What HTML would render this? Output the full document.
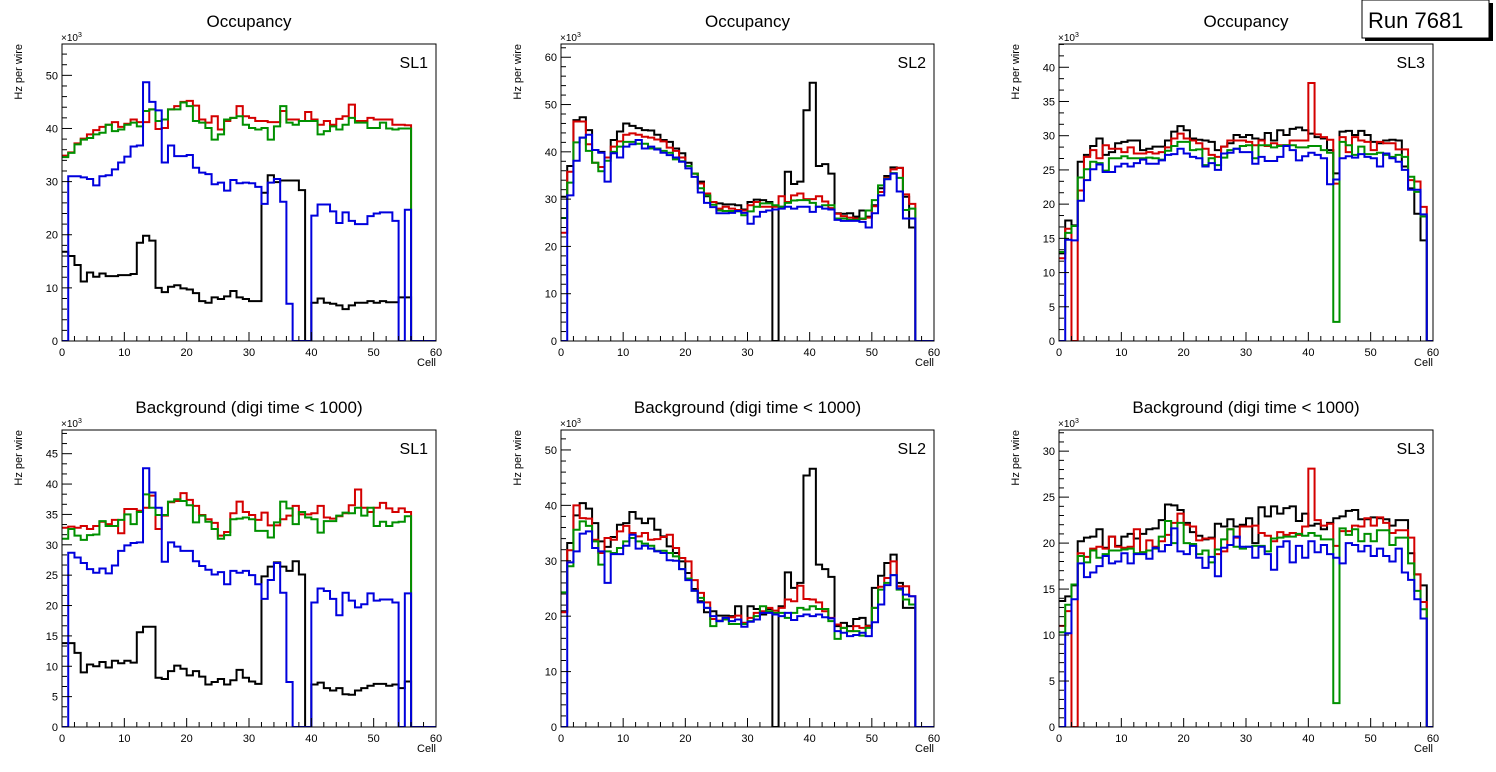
<!DOCTYPE html>
<html><head><meta charset="utf-8"><title>Occupancy Run 7681</title>
<style>
html,body{margin:0;padding:0;background:#fff;}
svg{display:block;font-family:"Liberation Sans",Arial,sans-serif;}
</style></head>
<body>
<svg id="chart" width="1496" height="772" viewBox="0 0 1496 772" xmlns="http://www.w3.org/2000/svg">
<rect x="0" y="0" width="1496" height="772" fill="#fff"/>
<g>
<rect x="1365" y="3" width="128" height="38" fill="#000"/>
<rect x="1362" y="0" width="127" height="38" fill="#fff" stroke="#000" stroke-width="1"/>
<text x="1368" y="28" font-size="22" fill="#000">Run 7681</text>
</g>
</svg>
<script>
const cells = 60;
const xTickLabels = ["0","10","20","30","40","50","60"];

// Panel 1: Occupancy SL1
const occSL1Black = [16.8,16.0,14.3,11.2,12.9,12.1,12.7,12.2,12.2,12.4,12.4,12.6,18.5,19.8,18.9,10.0,9.2,10.2,10.5,9.9,9.7,9.0,7.5,7.2,8.2,7.9,8.4,9.4,8.2,7.9,7.5,7.5,27.9,31.2,29.9,30.2,30.2,30.2,28.4,0,7.2,8.0,7.2,7.0,6.7,6.0,6.7,7.2,7.2,7.5,7.2,7.5,7.3,7.3,8.2,8.2,0,0,0,0];
const occSL1Red = [34.9,35.5,37.2,38.1,38.9,39.7,40.3,40.7,41.2,40.3,40.9,41.7,41.2,41.2,43.6,39.9,40.1,43.6,44.2,45.0,45.2,44.3,41.7,41.1,42.3,39.8,41.4,42.0,44.2,42.3,42.0,41.4,41.4,41.2,41.2,43.3,41.7,41.7,41.4,43.1,41.7,40.7,41.4,40.7,41.8,42.3,44.5,41.4,41.4,42.0,41.7,41.7,41.7,40.7,40.7,40.6,0,0,0,0];
const occSL1Green = [34.6,35.4,37.0,37.9,38.2,38.9,39.2,40.7,39.5,39.8,40.7,41.1,40.4,43.3,43.6,41.4,41.7,43.6,43.6,44.9,44.2,41.4,41.1,40.1,37.9,38.9,41.7,42.0,42.3,40.7,40.1,39.8,40.1,37.9,40.4,44.2,41.1,40.7,41.4,41.4,41.4,38.9,39.5,40.4,39.8,40.7,42.0,41.1,41.1,40.1,40.1,41.1,40.0,39.8,40.0,40.0,0,0,0,0];
const occSL1Blue = [0,31.0,31.0,30.8,30.5,29.3,31.0,31.2,32.3,33.6,34.7,36.6,36.8,48.7,45.0,43.4,33.6,36.8,34.8,34.8,35.0,32.6,31.7,31.4,29.5,29.8,28.3,30.3,29.7,29.8,29.7,29.0,25.8,29.8,30.5,26.2,7.0,0,0,0,23.6,25.7,25.7,24.4,22.2,24.2,22.6,22.0,22.0,23.5,24.0,24.2,24.2,22.6,0,24.7,0,0,0,0];

// Panel 2: Occupancy SL2
const occSL2Black = [30.5,37.0,46.7,47.3,44.6,40.4,40.0,38.8,42.5,44.3,46.0,45.5,45.0,44.6,44.5,43.6,42.5,42.1,40.7,39.7,37.7,35.4,33.7,30.6,29.4,29.1,28.9,28.9,28.7,27.8,29.4,29.9,29.8,29.4,0,28.4,35.8,33.2,33.7,48.8,54.6,37.0,37.4,35.4,27.0,26.9,27.0,26.3,27.6,26.3,28.7,32.3,34.9,36.7,36.6,30.5,24.0,0,0,0];
const occSL2Red = [22.9,35.8,46.4,46.4,41.6,37.7,36.8,38.8,41.1,42.2,43.6,43.9,43.6,43.2,43.0,42.6,42.2,40.9,40.2,38.8,37.0,35.4,33.3,31.2,29.4,28.0,28.4,28.0,27.7,27.6,28.7,29.4,28.4,28.4,28.4,30.6,29.4,30.8,31.2,30.0,30.0,30.6,29.5,28.1,26.9,26.4,26.1,25.9,25.8,26.1,28.5,31.5,34.5,36.3,36.6,31.0,29.0,0,0,0];
const occSL2Green = [26.0,33.5,42.0,43.0,40.2,37.7,35.9,38.1,40.0,41.1,42.1,42.1,41.7,41.7,40.7,40.7,40.2,39.8,38.4,38.0,37.0,35.4,32.3,30.8,28.8,27.6,27.5,27.5,27.4,26.6,27.4,28.4,29.1,29.1,28.7,28.4,29.2,29.7,29.8,29.8,29.2,28.4,28.7,28.7,25.9,25.9,25.6,25.6,25.9,27.6,29.8,32.9,34.3,35.5,34.5,27.7,28.0,0,0,0];
const occSL2Blue = [0,30.8,38.1,43.0,43.6,40.4,39.8,33.7,39.7,38.8,41.1,41.6,42.5,40.7,41.1,40.5,39.8,39.3,38.8,37.9,36.5,34.7,31.4,29.2,28.3,27.0,27.0,27.1,27.5,27.1,24.8,26.3,27.3,27.6,27.8,28.0,28.4,28.0,28.4,28.4,27.3,28.4,28.0,27.8,25.6,25.4,25.4,25.4,25.2,24.0,27.0,30.8,34.2,35.4,31.6,25.9,25.9,0,0,0];

// Panel 3: Occupancy SL3
const occSL3Black = [12.8,17.6,16.9,26.2,27.2,28.5,29.6,27.2,27.6,28.9,29.1,29.3,29.3,27.9,28.1,28.4,28.4,29.3,30.6,31.4,30.8,29.6,29.4,29.3,29.1,27.9,28.4,28.9,30.1,29.8,30.1,29.6,29.4,30.4,29.3,30.8,30.1,31.0,31.2,30.8,30.3,29.8,29.6,27.9,24.5,30.6,30.7,30.1,30.7,30.1,29.1,28.9,29.3,29.4,29.3,25.5,22.3,18.6,14.7,0];
const occSL3Red = [12.1,16.4,0,22.0,26.9,27.9,26.7,28.6,28.1,28.1,27.6,28.3,27.4,27.4,27.6,27.4,27.6,28.3,29.6,30.3,29.6,29.3,28.9,28.1,27.2,26.9,28.4,29.3,29.3,29.3,29.1,28.6,29.3,28.5,28.9,28.6,28.6,29.3,29.3,29.3,37.7,30.2,29.8,29.4,23.0,29.8,27.6,29.8,29.3,29.1,27.9,29.1,28.9,28.9,28.0,28.0,23.5,23.3,19.6,0];
const occSL3Green = [13.0,15.8,16.8,23.9,25.1,26.2,26.0,24.9,26.7,26.7,27.0,26.7,26.7,26.7,26.8,26.7,26.5,27.8,28.5,29.1,29.1,27.9,28.0,25.7,26.7,25.7,26.8,27.9,28.1,28.5,28.6,26.7,28.6,28.6,28.3,28.5,28.6,28.6,28.3,28.3,28.5,28.5,27.9,27.5,2.8,29.1,28.6,27.2,28.4,27.3,27.3,27.5,27.2,26.9,27.2,26.9,24.0,21.8,18.2,0];
const occSL3Blue = [0,14.8,14.7,20.5,23.5,25.1,25.8,24.7,24.7,25.5,25.9,25.5,26.0,26.5,25.9,25.9,26.4,27.2,27.3,28.1,27.4,26.9,26.7,25.5,26.0,25.0,27.4,27.5,28.1,27.6,27.6,25.9,26.9,26.3,26.3,26.9,28.5,27.9,26.4,27.0,27.5,27.2,26.7,22.9,23.6,26.7,27.0,26.8,27.3,26.9,26.7,25.5,27.4,26.7,26.2,25.0,22.1,22.1,18.5,0];

// Panel 4: Background SL1
const bkgSL1Black = [13.8,13.8,12.2,9.0,10.3,10.0,10.7,9.8,10.9,10.5,10.9,10.6,15.6,16.5,16.5,8.1,7.9,9.2,10.1,9.6,8.5,9.2,8.3,7.0,7.4,7.9,7.0,7.7,9.4,8.1,7.5,7.1,24.8,26.4,27.1,26.4,25.7,27.3,25.1,0,7.0,7.3,6.4,6.0,6.4,5.4,5.3,6.0,6.4,6.8,7.1,7.1,6.8,7.0,6.4,7.5,0,0,0,0];
const bkgSL1Red = [32.8,33.0,32.8,33.1,32.6,33.1,33.8,33.4,34.1,31.9,35.9,35.9,35.6,36.1,38.1,32.6,34.8,37.0,37.2,38.5,37.4,36.4,34.9,34.2,33.6,31.5,32.1,35.2,37.1,35.4,34.9,34.1,35.3,33.2,33.2,34.2,34.8,36.4,35.0,35.0,35.2,36.4,34.5,34.3,34.7,35.2,36.5,39.1,36.1,35.4,36.1,36.9,36.0,35.4,36.0,35.4,0,0,0,0];
const bkgSL1Green = [31.0,32.6,31.5,30.8,31.6,31.7,33.9,33.1,33.1,34.1,35.0,33.4,35.4,38.3,36.1,34.9,34.9,37.1,37.5,37.2,36.5,33.7,34.8,33.8,32.6,31.0,31.6,34.2,34.3,34.5,34.2,32.3,32.3,31.2,33.7,37.1,36.0,33.4,35.4,34.5,34.2,32.0,33.9,33.9,34.8,35.3,35.2,36.1,34.8,36.1,33.1,33.8,33.1,33.7,33.8,34.7,0,0,0,0];
const bkgSL1Blue = [0,28.7,27.9,27.0,26.0,25.4,26.1,25.3,26.6,29.0,29.9,30.3,30.4,42.6,38.6,36.1,27.2,30.4,29.7,29.0,29.0,27.3,26.5,25.9,25.1,25.5,23.5,25.7,25.4,25.7,25.0,23.5,21.1,24.2,27.0,22.1,7.4,0,0,0,20.5,22.8,22.4,21.1,18.4,22.1,20.8,19.7,20.2,22.0,20.8,21.0,21.0,20.5,0,22.0,0,0,0,0];

// Panel 5: Background SL2
const bkgSL2Black = [20.9,33.2,38.2,40.4,39.4,36.8,33.5,32.5,34.3,36.5,36.8,38.8,37.6,36.8,37.6,35.6,34.4,32.6,31.4,29.9,27.8,24.9,22.7,20.7,20.9,20.1,20.1,20.0,21.8,18.8,21.8,21.3,20.3,21.3,0,21.8,27.9,25.1,26.0,45.4,46.6,29.3,28.5,27.1,18.2,18.8,18.2,19.5,19.7,18.3,25.1,27.3,29.6,31.1,26.0,21.5,21.5,0,0,0];
const bkgSL2Red = [20.7,31.9,40.0,37.7,37.6,33.8,31.4,34.1,33.8,35.3,36.3,35.0,34.4,35.0,33.8,33.9,34.3,34.7,32.3,30.5,29.9,26.5,24.2,22.5,19.5,19.2,19.7,19.8,20.1,18.8,19.7,20.6,20.9,21.5,21.0,21.5,23.0,22.7,25.5,23.1,23.0,22.5,20.9,19.7,18.5,17.9,17.3,18.2,17.9,18.2,21.5,25.3,26.9,29.9,25.4,25.4,23.6,0,0,0];
const bkgSL2Green = [24.3,29.0,35.6,37.1,36.3,33.5,29.3,31.7,31.4,32.3,33.5,34.1,33.5,33.1,32.7,31.8,31.8,31.4,30.8,28.5,26.8,24.6,23.3,21.5,18.2,19.1,19.4,18.6,18.6,18.6,19.1,20.0,21.8,20.9,20.6,20.6,19.7,20.6,21.5,21.2,21.8,21.3,21.3,19.1,15.9,17.9,17.3,17.3,16.5,17.9,21.5,24.8,26.0,27.4,24.8,23.0,22.1,0,0,0];
const bkgSL2Blue = [0,29.7,31.7,34.9,35.3,32.3,31.7,26.0,31.2,31.2,32.7,34.7,32.2,32.7,32.2,31.7,31.4,30.1,30.0,28.5,26.5,24.6,22.5,21.5,20.0,19.1,19.7,19.1,19.4,18.1,19.0,19.4,20.6,20.6,20.3,20.0,20.6,19.3,20.0,20.3,20.0,20.3,19.8,19.6,17.3,17.0,16.4,16.6,17.0,16.4,18.9,22.1,25.6,27.4,25.0,23.9,23.6,0,0,0];

// Panel 6: Background SL3
const bkgSL3Black = [13.7,14.2,15.4,20.2,20.6,20.7,21.5,19.5,20.7,19.7,20.7,21.0,20.5,21.0,21.5,21.6,22.5,24.2,24.1,23.6,22.2,21.2,20.8,20.4,20.6,22.1,21.8,22.6,21.8,22.0,22.7,20.0,23.9,22.9,24.0,23.2,23.8,24.0,22.4,23.2,21.9,22.1,21.5,22.2,22.7,22.9,23.5,23.6,22.6,22.6,22.8,22.7,22.6,21.9,22.5,22.5,18.9,16.6,15.4,0];
const bkgSL3Red = [11.0,12.6,0,18.9,18.5,19.4,19.6,19.4,20.7,19.6,19.5,19.6,21.5,19.0,20.3,19.6,20.2,20.9,22.2,23.2,22.0,21.8,20.3,20.5,20.5,18.8,19.1,21.5,20.6,21.8,21.8,21.9,21.1,20.8,20.2,21.2,20.9,21.1,20.9,21.8,28.1,22.5,21.9,22.1,19.7,21.3,21.3,21.9,21.8,22.7,21.9,22.8,22.2,21.1,21.4,21.4,20.6,16.6,13.6,0];
const bkgSL3Green = [10.3,13.3,15.5,18.6,17.9,19.2,18.4,18.8,19.2,19.2,19.3,19.4,18.9,19.0,19.2,19.4,20.7,22.4,20.0,22.2,20.0,19.9,18.8,19.2,17.9,19.3,20.4,21.5,19.6,19.4,19.6,19.7,19.7,19.1,20.5,20.6,20.7,20.7,21.0,20.8,21.1,20.8,20.4,20.4,2.6,21.6,20.9,21.5,20.2,21.0,20.2,21.4,21.4,19.8,20.6,20.6,17.8,14.8,12.8,0];
const bkgSL3Blue = [0,10.2,13.9,17.8,16.3,16.8,17.5,18.6,17.8,18.0,18.9,17.8,18.8,18.8,18.3,19.5,19.1,19.8,21.6,19.1,18.8,19.7,18.4,17.3,18.5,16.4,19.5,19.8,20.7,19.6,19.6,18.4,19.6,18.8,17.1,19.6,20.2,17.9,19.7,18.4,20.2,19.0,19.8,18.8,18.4,17.8,20.0,19.8,19.1,19.7,18.6,19.4,18.6,18.0,19.4,16.8,16.0,13.9,11.8,0];

const panels = [
 {id:"occ-sl1",title:"Occupancy",sl:"SL1",x0:62,x1:436,top:44,bot:341,ymax:55.9,major:10,nminor:5,series:[occSL1Black,occSL1Red,occSL1Green,occSL1Blue]},
 {id:"occ-sl2",title:"Occupancy",sl:"SL2",x0:561,x1:934,top:44,bot:341,ymax:62.8,major:10,nminor:5,series:[occSL2Black,occSL2Red,occSL2Green,occSL2Blue]},
 {id:"occ-sl3",title:"Occupancy",sl:"SL3",x0:1059,x1:1433,top:44,bot:341,ymax:43.4,major:5,nminor:3,series:[occSL3Black,occSL3Red,occSL3Green,occSL3Blue]},
 {id:"bkg-sl1",title:"Background (digi time < 1000)",sl:"SL1",x0:62,x1:436,top:430,bot:727,ymax:48.9,major:5,nminor:3,series:[bkgSL1Black,bkgSL1Red,bkgSL1Green,bkgSL1Blue]},
 {id:"bkg-sl2",title:"Background (digi time < 1000)",sl:"SL2",x0:561,x1:934,top:430,bot:727,ymax:53.6,major:10,nminor:5,series:[bkgSL2Black,bkgSL2Red,bkgSL2Green,bkgSL2Blue]},
 {id:"bkg-sl3",title:"Background (digi time < 1000)",sl:"SL3",x0:1059,x1:1433,top:430,bot:727,ymax:32.3,major:5,nminor:5,series:[bkgSL3Black,bkgSL3Red,bkgSL3Green,bkgSL3Blue]}
];
const colors = ["#000000","#d40000","#009000","#0000dd"];
const seriesNames = ["black","red","green","blue"];

const svg = document.getElementById('chart');
const NS = "http://www.w3.org/2000/svg";
function mk(tag, attrs, parent){
  const e = document.createElementNS(NS, tag);
  for (const k in attrs) e.setAttribute(k, attrs[k]);
  (parent||svg).appendChild(e);
  return e;
}

panels.forEach(function(p){
  const g = mk('g', {});
  
  
  const xs = v => p.x0 + (p.x1 - p.x0) * v / cells;
  const ys = v => p.bot - (p.bot - p.top) * Math.min(v, p.ymax) / p.ymax;

  const title = mk('text', {x:(p.x0+p.x1)/2, y:p.top - 17, 'text-anchor':'middle', 'font-size':'17'}, g);
  title.textContent = p.title;
  
  

  const clipId = 'clip-' + p.id;
  const cp = mk('clipPath', {id:clipId}, g);
  mk('rect', {x:p.x0, y:p.top, width:p.x1-p.x0, height:p.bot-p.top}, cp);

  p.series.forEach(function(arr, si){
    let d = 'M' + xs(0).toFixed(2) + ',' + ys(arr[0]).toFixed(2);
    for (let i = 0; i < cells; i++){
      const v = arr[i] || 0;
      d += ' V' + ys(v).toFixed(2) + ' H' + xs(i+1).toFixed(2);
    }
    d += ' V' + ys(0).toFixed(2);
    const path = mk('path', {d:d, fill:'none', stroke:colors[si], 'stroke-width':'2', 'clip-path':'url(#'+clipId+')'}, g);
    
    
  });

  const frame = mk('rect', {x:p.x0, y:p.top, width:p.x1-p.x0, height:p.bot-p.top, fill:'none', stroke:'#000', 'stroke-width':'1'}, g);
  
  

  for (let t = 0; t <= cells; t += 2){
    const len = (t % 10 === 0) ? 9 : 5;
    mk('line', {x1:xs(t), x2:xs(t), y1:p.bot, y2:p.bot-len, stroke:'#000', 'stroke-width':'1'}, g);
  }
  xTickLabels.forEach(function(lab){
    const t = mk('text', {x:xs(+lab), y:p.bot+15, 'text-anchor':'middle', 'font-size':'11'}, g);
    t.textContent = lab;
    
    
  });
  const xt = mk('text', {x:p.x1, y:p.bot+25, 'text-anchor':'end', 'font-size':'11'}, g);
  xt.textContent = 'Cell';
  
  

  const minor = p.major / p.nminor;
  for (let k = 0; k * minor <= p.ymax + 1e-6; k++){
    const v = k * minor;
    const isMajor = (k % p.nminor === 0);
    mk('line', {x1:p.x0, x2:p.x0 + (isMajor ? 10 : 5), y1:ys(v), y2:ys(v), stroke:'#000', 'stroke-width':'1'}, g);
    if (isMajor){
      const t = mk('text', {x:p.x0 - 4, y:ys(v) + 4, 'text-anchor':'end', 'font-size':'11'}, g);
      t.textContent = String(Math.round(v));
      
      
    }
  }
  const exp = mk('text', {x:p.x0 - 1, y:p.top - 3, 'font-size':'10'}, g);
  exp.textContent = '×10';
  const sup = mk('tspan', {dy:'-4', 'font-size':'7'}, exp);
  sup.textContent = '3';
  
  

  const yt = mk('text', {x:0, y:0, 'text-anchor':'end', 'font-size':'11', transform:'translate('+(p.x0-40)+','+p.top+') rotate(-90)'}, g);
  yt.textContent = 'Hz per wire';
  
  

  const sl = mk('text', {x:p.x1 - 8, y:p.top + 24, 'text-anchor':'end', 'font-size':'16'}, g);
  sl.textContent = p.sl;
  
  
});
</script>
</body></html>
